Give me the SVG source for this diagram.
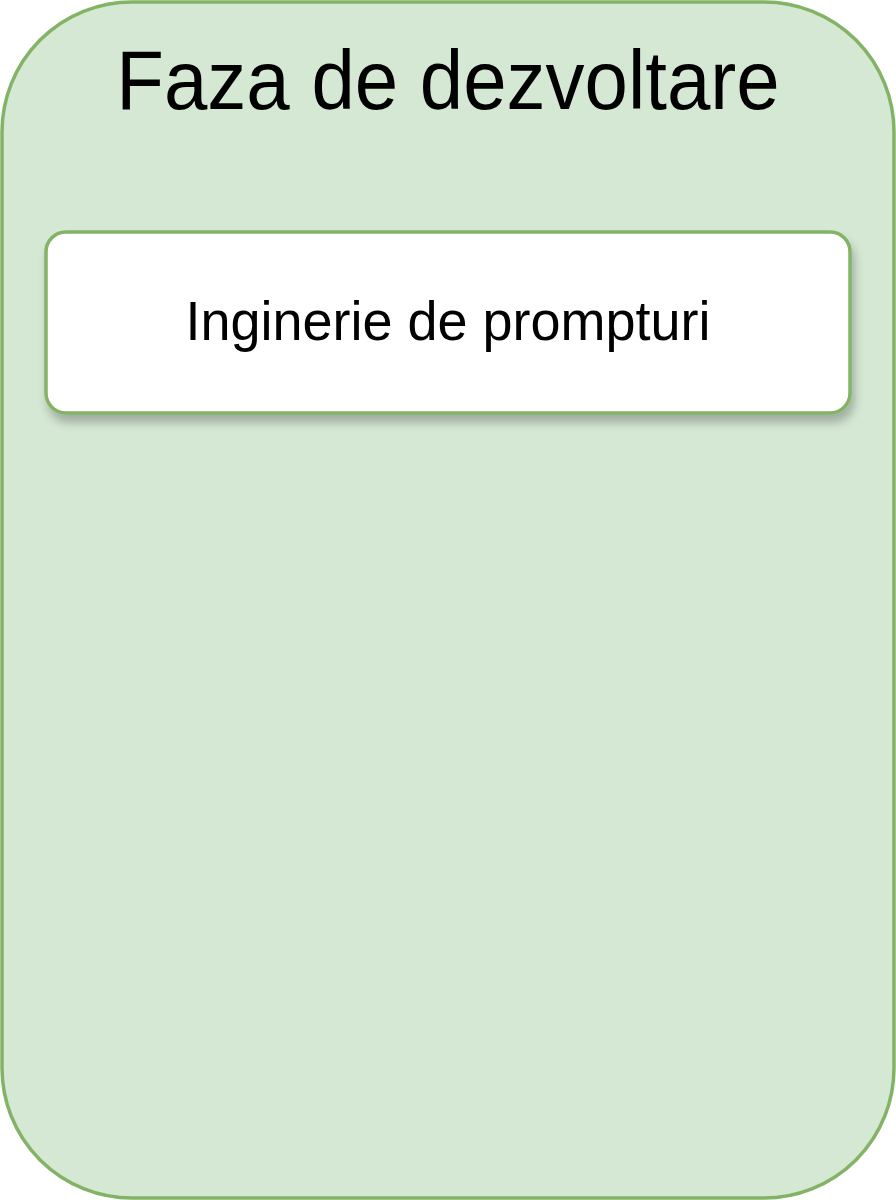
<svg xmlns="http://www.w3.org/2000/svg" width="896" height="1200" viewBox="0 0 896 1200">
<style>
.box{stroke:#82b366;stroke-width:3.5}
.t{font-family:"Liberation Sans",Arial,sans-serif;fill:#000;text-anchor:middle}
</style>
<defs>
<filter id="sh" x="-10%" y="-20%" width="120%" height="150%">
<feGaussianBlur in="SourceAlpha" stdDeviation="5"/>
<feOffset dx="3" dy="8" result="b"/>
<feComponentTransfer><feFuncA type="linear" slope="0.25"/></feComponentTransfer>
<feMerge><feMergeNode/><feMergeNode in="SourceGraphic"/></feMerge>
</filter>
</defs>
<g id="faza">
<rect class="box" x="2" y="2" width="892" height="1196" rx="130" ry="130" fill="#d5e8d4"/>
<text class="t" transform="translate(448,109) scale(1,1.07)" x="0" y="0" font-size="78">Faza de dezvoltare</text>
</g>
<g id="inginerie">
<rect class="box" x="46" y="232" width="804" height="181" rx="20" ry="20" fill="#ffffff" filter="url(#sh)"/>
<text class="t" transform="translate(448,340) scale(1,1.03)" x="0" y="0" font-size="54">Inginerie de prompturi</text>
</g>
<g id="connectors"/>
</svg>
